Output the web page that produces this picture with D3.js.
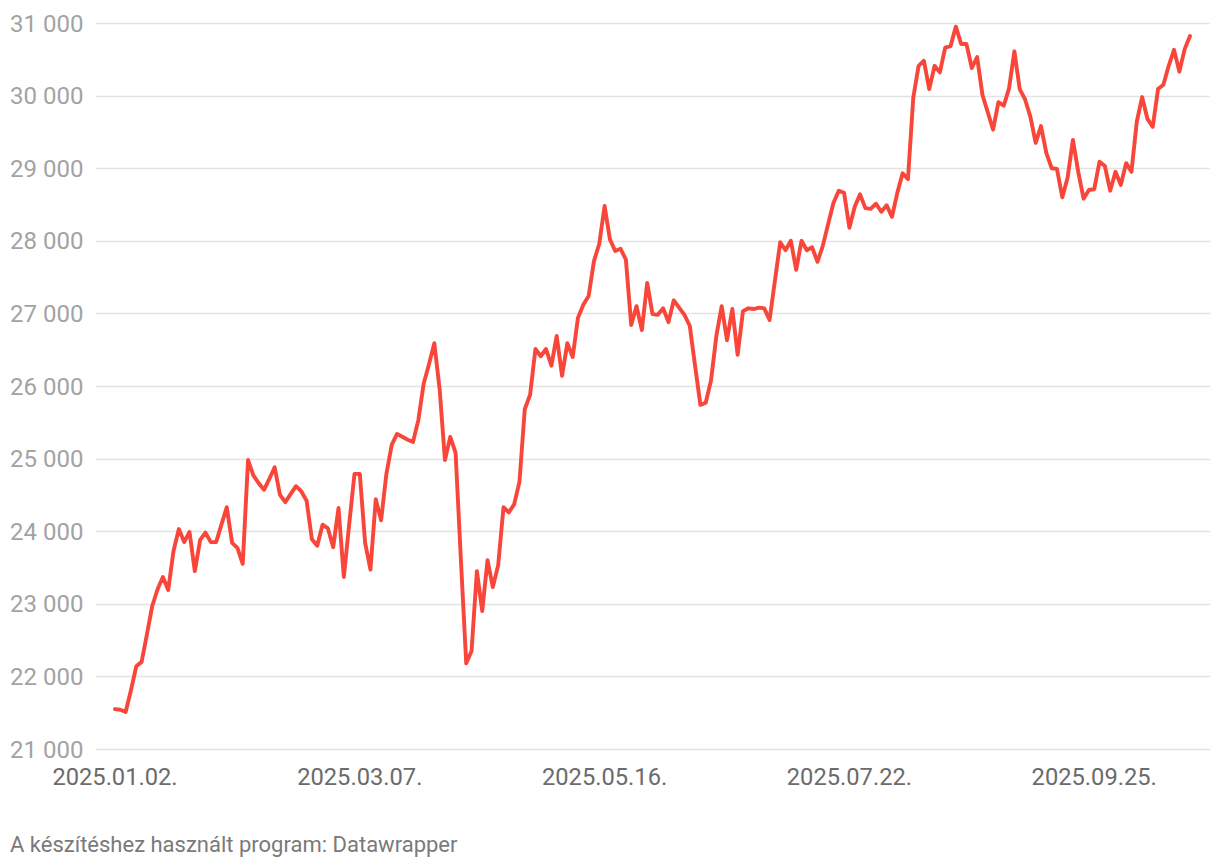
<!DOCTYPE html>
<html>
<head>
<meta charset="utf-8">
<script src="https://cdn.jsdelivr.net/npm/d3@7"></script>
<style>
  body { margin: 0; background: #fff; }
  text { font-family: Roboto, "Noto Sans", sans-serif; }
</style>
</head>
<body>
<script>
// Daily closing values (one per trading day)
const values = [
  21550, 21540, 21510, 21810, 22140, 22200, 22580, 22970, 23200, 23370,
  23190, 23730, 24030, 23850, 23990, 23450, 23880, 23980, 23850, 23850,
  24090, 24330, 23840, 23770, 23550, 24980, 24770, 24660, 24570, 24720,
  24880, 24500, 24400, 24510, 24620, 24550, 24420, 23890, 23800, 24090,
  24040, 23780, 24320, 23370, 24090, 24790, 24790, 23840, 23470, 24440,
  24150, 24790, 25190, 25340, 25300, 25260, 25230, 25530, 26030, 26300,
  26590, 25960, 24980, 25300, 25080, 23600, 22180, 22350, 23450, 22900,
  23600, 23230, 23530, 24330, 24260, 24370, 24680, 25680, 25880, 26510,
  26410, 26510, 26280, 26690, 26140, 26590, 26400, 26940, 27120, 27240,
  27720, 27960, 28480, 28020, 27860, 27890, 27740, 26840, 27100, 26770,
  27420, 26990, 26980, 27070, 26880, 27180, 27080, 26980, 26830, 26280,
  25740, 25770, 26080, 26690, 27100, 26630, 27060, 26430, 27030, 27070,
  27060, 27080, 27070, 26910, 27450, 27980, 27870, 28000, 27600, 28000,
  27870, 27910, 27710, 27930, 28230, 28520, 28690, 28660, 28180, 28470,
  28640, 28450, 28440, 28510, 28400, 28490, 28330, 28660, 28930, 28850,
  29970, 30410, 30480, 30090, 30410, 30320, 30660, 30680, 30950, 30710,
  30710, 30380, 30530, 30010, 29770, 29530, 29910, 29860, 30100, 30610,
  30090, 29950, 29710, 29350, 29580, 29210, 29000, 28990, 28600, 28870,
  29390, 28950, 28580, 28700, 28710, 29090, 29030, 28690, 28950, 28770,
  29070, 28950, 29640, 29980, 29680, 29570, 30090, 30150, 30410, 30630,
  30330, 30640, 30820
];

// x-axis labels and the trading-day index they sit on
const tickLabels = ["2025.01.02.", "2025.03.07.", "2025.05.16.", "2025.07.22.", "2025.09.25."];
const tickIndex = [0, 46, 92, 138, 184];

const yTicks = [21000, 22000, 23000, 24000, 25000, 26000, 27000, 28000, 29000, 30000, 31000];

const width = 1220;
const height = 866;

const svg = d3.select("body")
    .append("svg")
    .attr("width", width)
    .attr("height", height);

const x = d3.scaleLinear()
    .domain([0, values.length - 1])
    .range([115, 1190]);

const y = d3.scaleLinear()
    .domain([21000, 31000])
    .range([749, 23]);

const fmt = v => d3.format(",")(v).replace(/,/g, " ");

// Grid lines
svg.append("g")
    .selectAll("line")
    .data(yTicks)
    .join("line")
    .attr("x1", 96)
    .attr("x2", 1210)
    .attr("y1", d => Math.round(y(d)) + 0.5)
    .attr("y2", d => Math.round(y(d)) + 0.5)
    .attr("stroke", "#e3e3e3")
    .attr("stroke-width", 1.3);

// Y labels
svg.append("g")
    .selectAll("text")
    .data(yTicks)
    .join("text")
    .attr("x", 10)
    .attr("y", d => y(d))
    .attr("dy", "0.36em")
    .attr("fill", "#a3a3a3")
    .attr("font-size", 24)
    .text(fmt);

// X labels
svg.append("g")
    .selectAll("text")
    .data(tickLabels)
    .join("text")
    .attr("x", (d, i) => x(tickIndex[i]))
    .attr("y", 785)
    .attr("text-anchor", "middle")
    .attr("fill", "#6b6b6b")
    .attr("font-size", 23.7)
    .text(d => d);

// Line
const line = d3.line()
    .x((d, i) => x(i))
    .y(d => y(d));

svg.append("path")
    .datum(values)
    .attr("fill", "none")
    .attr("stroke", "#f8463a")
    .attr("stroke-width", 3.9)
    .attr("stroke-linejoin", "round")
    .attr("stroke-linecap", "round")
    .attr("d", line);

// Footer
svg.append("text")
    .attr("x", 10)
    .attr("y", 852)
    .attr("fill", "#7a7a7a")
    .attr("font-size", 22)
    .text("A készítéshez használt program: Datawrapper");
</script>
</body>
</html>
